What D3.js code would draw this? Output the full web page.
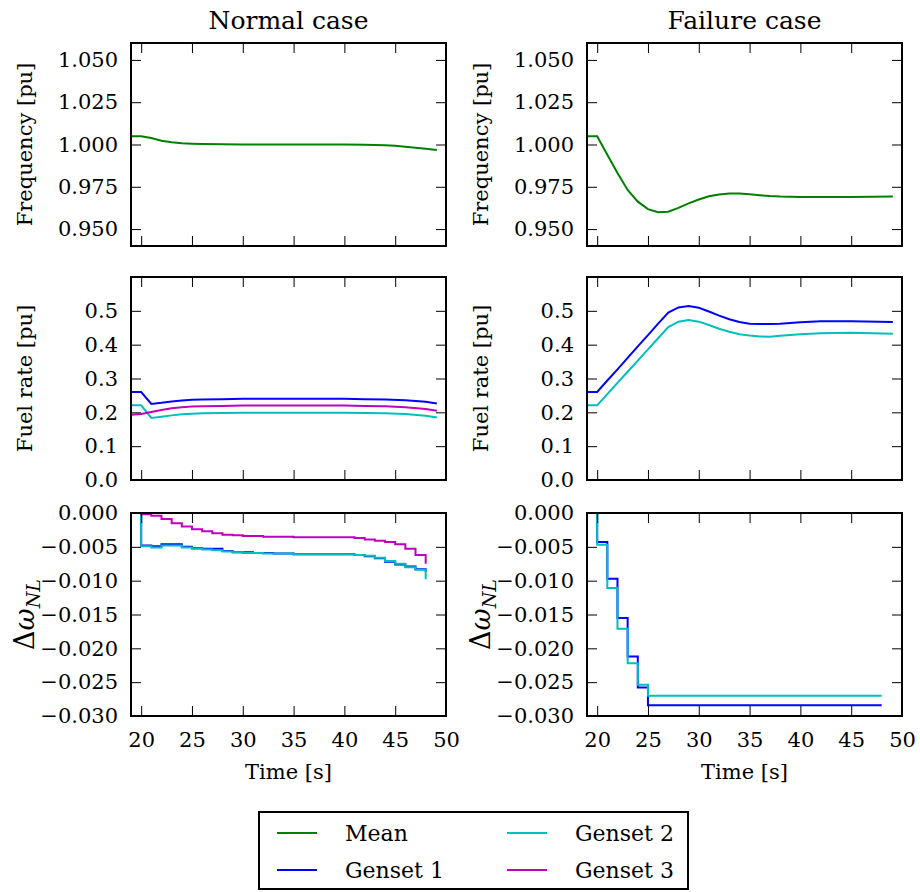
<!DOCTYPE html>
<html><head><meta charset="utf-8">
<script src="https://cdn.jsdelivr.net/npm/d3@7"></script>
<style>
body{margin:0;background:#fff}
svg{display:block}
svg text{font-family:"DejaVu Serif",serif !important;fill:#000}
</style>
</head><body>
<svg id="chart" width="920" height="892"></svg>
<script>
// ---------- data ----------
const xTicks = [20, 25, 30, 35, 40, 45, 50];
const freqTicks = [0.950, 0.975, 1.000, 1.025, 1.050];
const fuelTicks = [0.0, 0.1, 0.2, 0.3, 0.4, 0.5];
const dwTicks = [0, -0.005, -0.010, -0.015, -0.020, -0.025, -0.030];
const columnTitles = ["Normal case", "Failure case"];
const seriesNames = ["Mean", "Genset 1", "Genset 2", "Genset 3"];

// Normal case - frequency (mean)
const normFreqT = [19, 20, 21, 22, 23, 24, 25, 26, 28, 30, 35, 40, 42, 44, 45, 46, 47, 48, 49.1];
const normFreqMean = [1.0049, 1.0049, 1.0038, 1.0022, 1.0013, 1.0008, 1.0005, 1.0003, 1.0001, 1.0000, 1.0000, 1.0000, 0.9998, 0.9995, 0.9992, 0.9987, 0.9981, 0.9975, 0.9967];

// Failure case - frequency (mean)
const failFreqT = [19, 20, 21, 22, 23, 24, 25, 26, 27, 28, 29, 30, 31, 32, 33, 34, 35, 36, 37, 38, 40, 42, 45, 49.1];
const failFreqMean = [1.0049, 1.0049, 0.9940, 0.9831, 0.9731, 0.9662, 0.9618, 0.9600, 0.9603, 0.9625, 0.9652, 0.9675, 0.9694, 0.9705, 0.9710, 0.9710, 0.9706, 0.9700, 0.9695, 0.9692, 0.9689, 0.9689, 0.9690, 0.9692];

// Normal case - fuel rate
const normFuelT = [19, 20, 21, 22, 23, 24, 25, 26, 28, 30, 35, 40, 42, 44, 46, 48, 49.1];
const normFuelG1 = [0.260, 0.260, 0.225, 0.228, 0.232, 0.235, 0.237, 0.238, 0.239, 0.240, 0.240, 0.240, 0.239, 0.238, 0.236, 0.231, 0.226];
const normFuelG2 = [0.2206, 0.2206, 0.1834, 0.187, 0.191, 0.194, 0.196, 0.197, 0.198, 0.199, 0.199, 0.199, 0.198, 0.197, 0.195, 0.190, 0.185];
const normFuelG3 = [0.193, 0.195, 0.201, 0.207, 0.212, 0.215, 0.217, 0.218, 0.219, 0.220, 0.220, 0.220, 0.219, 0.218, 0.215, 0.210, 0.205];

// Failure case - fuel rate
const failFuelT = [19, 20, 21, 22, 23, 24, 25, 26, 27, 28, 29, 30, 31, 32, 33, 34, 35, 36, 37, 38, 40, 42, 45, 49.1];
const failFuelG1 = [0.260, 0.260, 0.294, 0.327, 0.361, 0.395, 0.428, 0.462, 0.495, 0.510, 0.514, 0.509, 0.498, 0.486, 0.475, 0.467, 0.462, 0.461, 0.461, 0.462, 0.466, 0.469, 0.469, 0.467];
const failFuelG2 = [0.2206, 0.2206, 0.254, 0.287, 0.320, 0.353, 0.386, 0.419, 0.452, 0.468, 0.4726, 0.468, 0.458, 0.447, 0.438, 0.431, 0.427, 0.424, 0.4235, 0.426, 0.431, 0.434, 0.435, 0.432];

// Normal case - delta omega NL (step series, value held from t until next t)
const normDwT = [19, 20, 21, 22, 23, 24, 25, 26, 27, 28, 29, 30, 31, 32, 33, 34, 35, 36, 37, 38, 39, 40, 41, 42, 43, 44, 45, 46, 47, 48];
const normDwG1 = [0, -0.0048, -0.0049, -0.0046, -0.0046, -0.0050, -0.0052, -0.0053, -0.0053, -0.0056, -0.0058, -0.0058, -0.0059, -0.0059, -0.0060, -0.0060, -0.0061, -0.0061, -0.0061, -0.0061, -0.0061, -0.0061, -0.0062, -0.0064, -0.0067, -0.0072, -0.0076, -0.0079, -0.0083, -0.0087];
const normDwG2 = [0, -0.0049, -0.0051, -0.0048, -0.0048, -0.0051, -0.0053, -0.0054, -0.0055, -0.0057, -0.0058, -0.0059, -0.0059, -0.0060, -0.0060, -0.0060, -0.0061, -0.0061, -0.0061, -0.0061, -0.0061, -0.0061, -0.0062, -0.0063, -0.0066, -0.0071, -0.0075, -0.0080, -0.0084, -0.0098];
const normDwG3 = [0, -0.0002, -0.0004, -0.0009, -0.0015, -0.0020, -0.0024, -0.0027, -0.0030, -0.0032, -0.0033, -0.0034, -0.0034, -0.0035, -0.0035, -0.0035, -0.0036, -0.0036, -0.0036, -0.0036, -0.0036, -0.0036, -0.0037, -0.0039, -0.0041, -0.0043, -0.0046, -0.0053, -0.0062, -0.0075];

// Failure case - delta omega NL (step series)
const failDwT = [19, 20, 21, 22, 23, 24, 25, 48];
const failDwG1 = [0, -0.0043, -0.0097, -0.0155, -0.0212, -0.0258, -0.0284, -0.0284];
const failDwG2 = [0, -0.0047, -0.0111, -0.0171, -0.0222, -0.0254, -0.0270, -0.0270];

// ---------- drawing ----------
const FONT = '"DejaVu Serif", serif';
const colors = {"Mean": "#008000", "Genset 1": "#0000ff", "Genset 2": "#00bfbf", "Genset 3": "#bf00bf"};
const svg = d3.select("#chart");
const colLeft = [131, 587];
const rowTop = [43, 277, 513];
const pw = 315, ph = 203;
const xDomain = [19, 50];

function zip(t, v) { return t.map((d, i) => [d, v[i]]); }

let clipId = 0;
function panel(col, row, yDomain, yTicks, yFmt, series, showXLabels, yLabel, step) {
  const g = svg.append("g").attr("transform", `translate(${colLeft[col]},${rowTop[row]})`);
  const x = d3.scaleLinear().domain(xDomain).range([0, pw]);
  const y = d3.scaleLinear().domain(yDomain).range([ph, 0]);
  const id = "clip" + (clipId++);
  g.append("clipPath").attr("id", id).append("rect").attr("width", pw).attr("height", ph);

  const line = d3.line().x(d => x(d[0])).y(d => y(d[1])).curve(step ? d3.curveStepAfter : d3.curveLinear);
  const lg = g.append("g").attr("clip-path", `url(#${id})`);
  series.forEach(s => {
    lg.append("path").datum(zip(s.t, s.v)).attr("d", line)
      .attr("fill", "none").attr("stroke", colors[s.name]).attr("stroke-width", 2)
      .attr("stroke-linejoin", "miter").attr("stroke-linecap", "butt");
  });

  const axB = d3.axisBottom(x).tickValues(xTicks).tickSizeInner(-10).tickSizeOuter(0).tickPadding(16)
    .tickFormat(showXLabels ? d3.format("d") : () => "");
  const axT = d3.axisTop(x).tickValues(xTicks).tickSizeInner(-10).tickSizeOuter(0).tickFormat(() => "");
  const axL = d3.axisLeft(y).tickValues(yTicks).tickSizeInner(-10).tickSizeOuter(0).tickPadding(13).tickFormat(yFmt);
  const axR = d3.axisRight(y).tickValues(yTicks).tickSizeInner(-10).tickSizeOuter(0).tickFormat(() => "");
  const gb = g.append("g").attr("transform", `translate(0,${ph})`).call(axB);
  const gt = g.append("g").call(axT);
  const gl = g.append("g").call(axL);
  const gr = g.append("g").attr("transform", `translate(${pw},0)`).call(axR);
  [gb, gt, gl, gr].forEach(a => {
    a.attr("font-family", FONT).attr("font-size", 21);
    a.select(".domain").remove();
    a.selectAll(".tick line").attr("stroke", "#000").attr("stroke-width", 1);
    a.selectAll("text").attr("font-family", FONT).attr("font-size", 21).attr("fill", "#000");
  });

  g.append("rect").attr("width", pw).attr("height", ph).attr("fill", "none").attr("stroke", "#000").attr("stroke-width", 2);

  if (yLabel === "dw") {
    const lbl = g.append("text").attr("transform", `translate(${34 - colLeft[0]},${ph / 2}) rotate(-90)`)
      .attr("text-anchor", "middle").attr("font-family", FONT).attr("font-size", 27);
    lbl.append("tspan").text("Δ");
    lbl.append("tspan").attr("font-style", "italic").text("ω");
    lbl.append("tspan").attr("font-style", "italic").attr("font-size", 19).attr("dy", 6).text("NL");
  } else {
    g.append("text").attr("transform", `translate(${32 - colLeft[0]},${ph / 2}) rotate(-90)`)
      .attr("text-anchor", "middle").attr("font-family", FONT).attr("font-size", 21).text(yLabel);
  }
  if (showXLabels) {
    g.append("text").attr("x", pw / 2).attr("y", ph + 63).attr("text-anchor", "middle")
      .attr("font-family", FONT).attr("font-size", 21).text("Time [s]");
  }
  return g;
}

const fmtFreq = d3.format(".3f");
const fmtFuel = d3.format(".1f");
const fmtDw = d => d3.format(".3f")(d).replace("-", "−");

panel(0, 0, [0.94, 1.06], freqTicks, fmtFreq, [{name: "Mean", t: normFreqT, v: normFreqMean}], false, "Frequency [pu]", false);
panel(1, 0, [0.94, 1.06], freqTicks, fmtFreq, [{name: "Mean", t: failFreqT, v: failFreqMean}], false, "Frequency [pu]", false);
panel(0, 1, [0, 0.6], fuelTicks, fmtFuel, [
  {name: "Genset 1", t: normFuelT, v: normFuelG1},
  {name: "Genset 2", t: normFuelT, v: normFuelG2},
  {name: "Genset 3", t: normFuelT, v: normFuelG3}], false, "Fuel rate [pu]", false);
panel(1, 1, [0, 0.6], fuelTicks, fmtFuel, [
  {name: "Genset 1", t: failFuelT, v: failFuelG1},
  {name: "Genset 2", t: failFuelT, v: failFuelG2}], false, "Fuel rate [pu]", false);
panel(0, 2, [-0.03, 0], dwTicks, fmtDw, [
  {name: "Genset 1", t: normDwT, v: normDwG1},
  {name: "Genset 2", t: normDwT, v: normDwG2},
  {name: "Genset 3", t: normDwT, v: normDwG3}], true, "dw", true);
panel(1, 2, [-0.03, 0], dwTicks, fmtDw, [
  {name: "Genset 1", t: failDwT, v: failDwG1},
  {name: "Genset 2", t: failDwT, v: failDwG2}], true, "dw", true);

columnTitles.forEach((t, i) => {
  svg.append("text").attr("x", colLeft[i] + pw / 2).attr("y", 29).attr("text-anchor", "middle")
    .attr("font-family", FONT).attr("font-size", 25).text(t);
});

const leg = svg.append("g").attr("transform", "translate(259,812)");
leg.append("rect").attr("width", 429).attr("height", 77).attr("fill", "#fff").attr("stroke", "#000").attr("stroke-width", 2);
const legPos = [[18, 21], [18, 58], [248, 21], [248, 58]];
seriesNames.forEach((n, i) => {
  const [lx, ly] = legPos[i];
  leg.append("line").attr("x1", lx).attr("x2", lx + 40).attr("y1", ly).attr("y2", ly)
    .attr("stroke", colors[n]).attr("stroke-width", 2);
  leg.append("text").attr("x", lx + 68).attr("y", ly + 8).attr("font-family", FONT).attr("font-size", 22).text(n);
});
</script>
</body></html>
